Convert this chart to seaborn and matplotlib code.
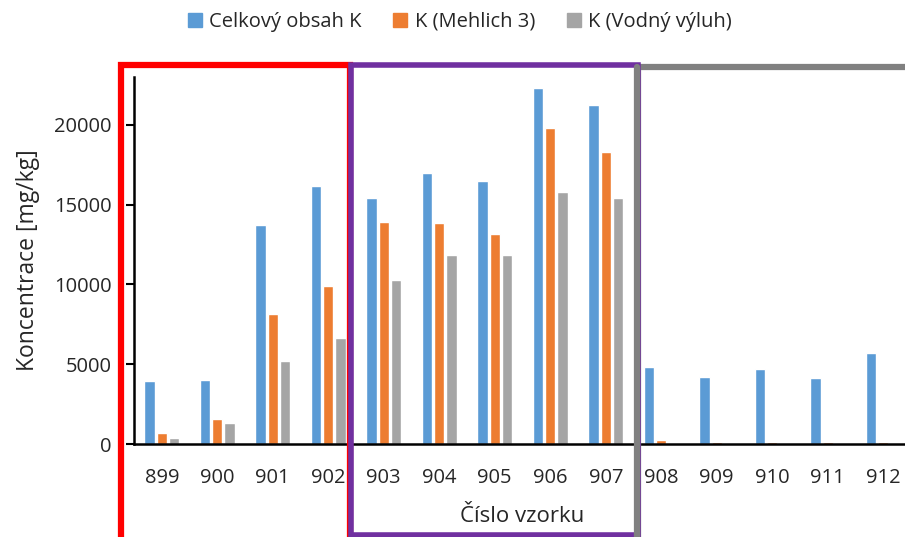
import pandas as pd
import numpy as np
import matplotlib
matplotlib.use('Agg')
import matplotlib.pyplot as plt
from matplotlib.patches import Rectangle
from matplotlib.lines import Line2D
import seaborn as sns

# ── Data ──────────────────────────────────────────────────────────────────────
samples   = ["899", "900", "901", "902", "903", "904", "905",
             "906", "907", "908", "909", "910", "911", "912"]
celkovy   = [3970, 4000, 13710, 16180, 15400, 16990, 16510,
             22280, 21250, 4850, 4220, 4680, 4120, 5730]
mehlich3  = [670, 1550, 8150, 9930, 13940, 13860, 13150,
             19790, 18290, 220, 150, 150, 150, 150]
vodny     = [360, 1340, 5180, 6630, 10260, 11850, 11850,
             15780, 15400, 0, 0, 0, 0, 0]
series    = ["Celkový obsah K", "K (Mehlich 3)", "K (Vodný výluh)"]
colors    = ["#5B9BD5", "#ED7D31", "#A5A5A5"]

df = pd.DataFrame({
    "sample": samples * 3,
    "value":  celkovy + mehlich3 + vodny,
    "series": np.repeat(series, len(samples)),
})

sns.set_style("white")
plt.rcParams["font.family"] = ["Open Sans", "DejaVu Sans"]

fig = plt.figure(figsize=(9.05, 5.37), dpi=100)
ax = fig.add_axes([134 / 905, 1 - 444 / 537, 777 / 905, (444 - 77) / 537])

sns.barplot(data=df, x="sample", y="value", hue="series", palette=colors,
            width=0.66, gap=0.15, ax=ax, legend=False, saturation=1)

ax.set_ylim(0, 23000)
ax.set_xlim(-0.5, len(samples) - 0.5)
ax.set_yticks([0, 5000, 10000, 15000, 20000])
ax.tick_params(axis="y", direction="out", length=6, width=1.5, labelsize=14.5,
               left=True, pad=10, color="black", labelcolor="#262626")
ax.tick_params(axis="x", length=0, labelsize=14.5, pad=17, labelcolor="#262626")
for s in ["top", "right"]:
    ax.spines[s].set_visible(False)
ax.spines["left"].set_color("black")
ax.spines["left"].set_linewidth(1.8)
ax.spines["bottom"].set_color("black")
ax.spines["bottom"].set_linewidth(1.8)
ax.set_ylabel("Koncentrace [mg/kg]", fontsize=16.5, labelpad=10, color="#262626")
ax.set_xlabel("Číslo vzorku", fontsize=16, labelpad=13, color="#262626")

# legend on top
handles = [Line2D([], [], marker="s", linestyle="none", markersize=10,
                  markerfacecolor=c, markeredgecolor=c) for c in colors]
fig.legend(handles, series, loc="center", bbox_to_anchor=(0.508, 1 - 22 / 537),
           ncol=3, frameon=False, fontsize=14.5, handlelength=0.7,
           handletextpad=0.35, columnspacing=1.6, labelcolor="#262626")

# coloured group boxes
W, H = 905, 537
def box(x0, y0, x1, y1, color, lw):
    fig.add_artist(Rectangle((x0 / W, 1 - y1 / H), (x1 - x0) / W, (y1 - y0) / H,
                             transform=fig.transFigure, fill=False,
                             edgecolor=color, linewidth=lw, clip_on=False))

box(121, 65, 350, 560, "#FF0000", 4.5)
box(638, 67, 960, 560, "#808080", 4.5)
box(351, 65, 638, 535, "#7030A0", 4.0)
fig.add_artist(Line2D([637 / W, 637 / W], [1 - 67 / H, 0], transform=fig.transFigure,
                      color="#808080", linewidth=4.5))

fig.savefig("out.png", dpi=100)
